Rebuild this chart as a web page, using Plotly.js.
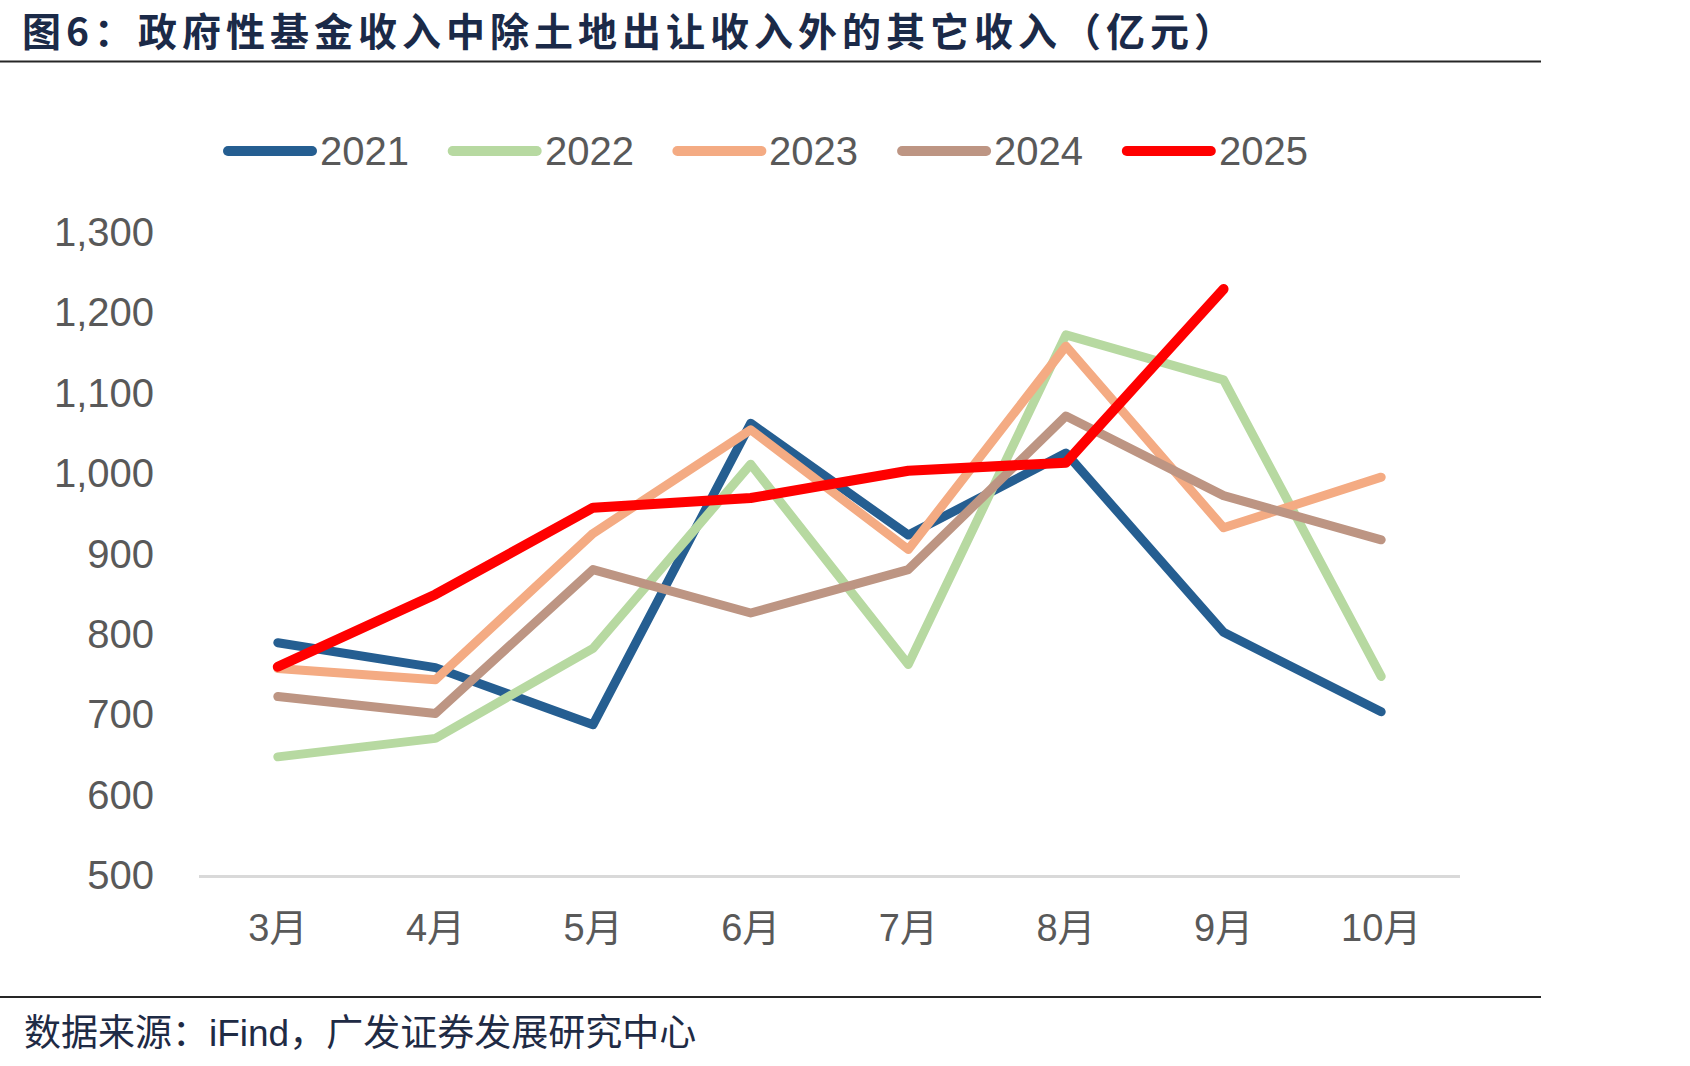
<!DOCTYPE html>
<html>
<head>
<meta charset="utf-8">
<script src="https://cdn.plot.ly/plotly-3.0.1.min.js"></script>
<style>
  html, body { margin: 0; padding: 0; background: #fff; }
  #chart { width: 1690px; height: 1066px; }
  .scatterlayer .js-line { stroke-linecap: round !important; stroke-linejoin: round !important; }
</style>
</head>
<body>
<div id="chart"></div>
<script>
// 政府性基金收入中除土地出让收入外的其它收入（亿元），3月—10月
const months = ['3月', '4月', '5月', '6月', '7月', '8月', '9月', '10月'];

const y2021 = [789, 758, 687, 1062, 923, 1025, 802, 703];
const y2022 = [647, 670, 782, 1011, 762, 1172, 1116, 747];
const y2023 = [757, 743, 925, 1054, 905, 1158, 932, 995];
const y2024 = [722, 701, 880, 826, 880, 1071, 972, 917];
const y2025 = [759, 849, 957, 969, 1003, 1013, 1229];

const seriesNames = ['2021', '2022', '2023', '2024', '2025'];
const seriesValues = [y2021, y2022, y2023, y2024, y2025];
const seriesColors = ['#255E91', '#B7D9A1', '#F4AB83', '#BD9583', '#FF0000'];
const seriesWidths = [9, 9, 9, 9, 10];

const W = 1690, H = 1066;
const M = { l: 199, r: 230, t: 232, b: 191 };
const PW = W - M.l - M.r, PH = H - M.t - M.b;
// pixel -> paper helpers for the page furniture (rules, legend, source line)
const px = x => (x - M.l) / PW;
const py = y => (H - M.b - y) / PH;

const traces = seriesNames.map((name, i) => ({
  type: 'scatter',
  mode: 'lines',
  name: name,
  x: months.slice(0, seriesValues[i].length),
  y: seriesValues[i],
  line: { color: seriesColors[i], width: seriesWidths[i] },
  showlegend: false,
  hoverinfo: 'skip'
}));

const shapes = [
  { type: 'line', xref: 'paper', yref: 'paper', x0: px(0), x1: px(1541), y0: py(61.5), y1: py(61.5),
    line: { color: '#262626', width: 2 } },
  { type: 'line', xref: 'paper', yref: 'paper', x0: px(0), x1: px(1541), y0: py(997), y1: py(997),
    line: { color: '#262626', width: 2 } }
];
const annotations = [];

// legend row across the top of the plot
const legendY = 151, legendX0 = 228, legendStep = 224.7, swatchLen = 84;
const swatchCount = seriesNames.length;
seriesNames.forEach((name, i) => {
  const x0 = legendX0 + i * legendStep;
  shapes.push({
    type: 'line', xref: 'paper', yref: 'paper',
    x0: px(x0), x1: px(x0 + swatchLen), y0: py(legendY), y1: py(legendY),
    line: { color: seriesColors[i], width: 10 }
  });
  annotations.push({
    xref: 'paper', yref: 'paper', x: px(x0 + swatchLen + 6), y: py(legendY),
    xanchor: 'left', yanchor: 'middle', showarrow: false, text: name,
    font: { family: 'Liberation Sans, Arial, sans-serif', size: 40, color: '#595959' }
  });
});

annotations.push({
  xref: 'paper', yref: 'paper', x: px(22), y: py(1033),
  xanchor: 'left', yanchor: 'middle', showarrow: false,
  text: '数据来源：iFind，广发证券发展研究中心',
  font: { family: 'Liberation Sans, Noto Sans CJK SC, sans-serif', size: 37, color: '#1F2B45' }
});

const layout = {
  width: W, height: H,
  margin: M,
  paper_bgcolor: '#fff', plot_bgcolor: '#fff',
  title: {
    text: '<b>图6：政府性基金收入中除土地出让收入外的其它收入（亿元）</b>',
    xref: 'container', yref: 'container',
    x: 22 / W, xanchor: 'left', y: 1 - 32 / H, yanchor: 'middle',
    font: { family: 'Noto Sans CJK SC, sans-serif', size: 39, color: '#1B2A48' }
  },
  xaxis: {
    type: 'category', categoryorder: 'array', categoryarray: months,
    range: [-0.5, months.length - 0.5],
    showgrid: false, zeroline: false,
    showline: true, linecolor: '#D9D9D9', linewidth: 3,
    ticks: '', ticklabelstandoff: 17,
    tickfont: { family: 'Liberation Sans, Noto Sans CJK SC, sans-serif', size: 38, color: '#595959' },
    fixedrange: true
  },
  yaxis: {
    range: [500, 1300], dtick: 100, tick0: 500, tickformat: ',d',
    showgrid: false, zeroline: false, showline: false,
    ticks: '', ticklabelstandoff: 44,
    tickfont: { family: 'Liberation Sans, Arial, sans-serif', size: 40, color: '#595959' },
    fixedrange: true
  },
  shapes: shapes,
  annotations: annotations,
  showlegend: false
};

Plotly.newPlot('chart', traces, layout, { displayModeBar: false, staticPlot: true }).then(() => {
  // rounded ends on the legend swatches
  const paths = document.querySelectorAll('.shapelayer path');
  paths.forEach((p, i) => {
    if (i >= paths.length - swatchCount) p.style.strokeLinecap = 'round';
  });
  // looser tracking on the heading
  document.querySelectorAll('.gtitle, .gtitle tspan').forEach(el => {
    el.style.letterSpacing = '5px';
  });
});
</script>
</body>
</html>
